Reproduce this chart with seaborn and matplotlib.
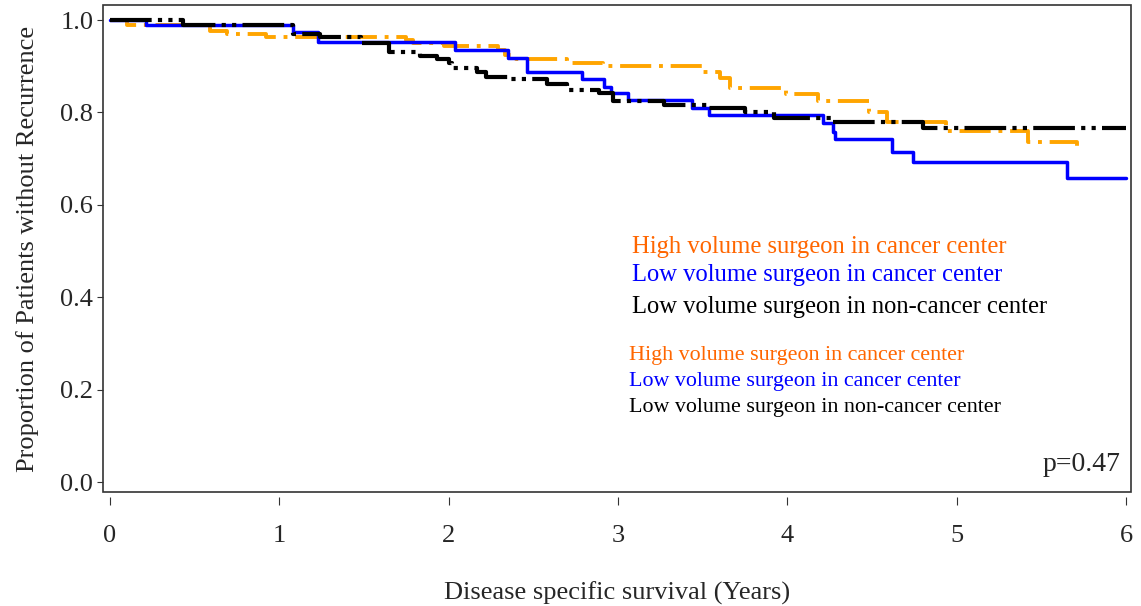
import numpy as np
import pandas as pd
import seaborn as sns
import matplotlib.pyplot as plt
from matplotlib.patches import Rectangle

# step points (time in years, proportion)
high_cc_t = [0, 0.1, 0.59, 0.69, 0.92, 1.75, 1.79, 1.97, 2.29, 2.33, 2.4, 2.7, 2.91,
             3.5, 3.6, 3.66, 3.99, 4.18, 4.48, 4.59, 4.94, 5.42, 5.71]
high_cc_s = [1.0, 0.99, 0.976, 0.97, 0.963, 0.957, 0.95, 0.944, 0.935, 0.924, 0.915, 0.908, 0.9,
             0.888, 0.874, 0.853, 0.84, 0.825, 0.8, 0.779, 0.76, 0.736, 0.72]

low_cc_t = [0, 0.21, 1.08, 1.23, 2.04, 2.35, 2.46, 2.79, 2.92, 2.96, 3.06, 3.44, 3.54,
            4.21, 4.27, 4.28, 4.62, 4.74, 5.65, 6.0]
low_cc_s = [1.0, 0.99, 0.975, 0.953, 0.935, 0.918, 0.887, 0.872, 0.855, 0.842, 0.827, 0.81, 0.794,
            0.777, 0.757, 0.742, 0.714, 0.692, 0.658, 0.658]

low_ncc_t = [0, 0.43, 1.08, 1.24, 1.48, 1.65, 1.83, 1.93, 2.0, 2.02, 2.17, 2.22, 2.36, 2.58, 2.7,
             2.89, 2.97, 3.27, 3.54, 3.75, 3.92, 4.26, 4.8, 6.0]
low_ncc_s = [1.0, 0.99, 0.97, 0.963, 0.95, 0.93, 0.922, 0.915, 0.906, 0.896, 0.887, 0.877, 0.872, 0.861, 0.848,
             0.842, 0.825, 0.816, 0.81, 0.8, 0.788, 0.779, 0.766, 0.766]

labels = ["High volume surgeon in cancer center",
          "Low volume surgeon in cancer center",
          "Low volume surgeon in non-cancer center"]
line_colors = ["#FFA500", "#0000FF", "#000000"]
text_colors = ["#FF6600", "#0000FF", "#000000"]

# text block positions in data units
block1_x, block1_y = 3.083, [0.496, 0.435, 0.366]
block2_x, block2_y = 3.065, [0.264, 0.208, 0.152]

sns.set_style("white")
plt.rcParams['font.family'] = ['Liberation Serif', 'DejaVu Serif']

fig = plt.figure(figsize=(11.41, 6.06), dpi=100)
ax = fig.add_axes([0.0903, 0.1881, 0.9009, 0.8036])

sns.lineplot(x=high_cc_t, y=high_cc_s, ax=ax, color=line_colors[0], drawstyle='steps-post',
             estimator=None, sort=False, linewidth=2.8, linestyle=(0, (8, 2, 1, 2)))
sns.lineplot(x=low_cc_t, y=low_cc_s, ax=ax, color=line_colors[1], drawstyle='steps-post',
             estimator=None, sort=False, linewidth=2.5)
sns.lineplot(x=low_ncc_t, y=low_ncc_s, ax=ax, color=line_colors[2], drawstyle='steps-post',
             estimator=None, sort=False, linewidth=3.0, linestyle=(0, (10, 1.5, 1, 1.5, 1, 1.5)))

ax.set_xlim(-0.0413, 6.0295)
ax.set_ylim(-0.0216, 1.0325)
ax.set_xticks(range(0, 7))
ax.set_yticks([0.0, 0.2, 0.4, 0.6, 0.8, 1.0])
ax.set_yticklabels(["0.0", "0.2", "0.4", "0.6", "0.8", "1.0"])

# detached x ticks below the box, box drawn as a rectangle
for s in ax.spines.values():
    s.set_visible(False)
ax.spines['bottom'].set_visible(True)
ax.spines['bottom'].set_position(('outward', 3.6))
ax.spines['bottom'].set_linewidth(0)
ax.add_patch(Rectangle((0, 0), 1, 1, transform=ax.transAxes, fill=False,
                       edgecolor="#333333", linewidth=1.2, clip_on=False, zorder=5))
ax.tick_params(axis='x', direction='out', length=6, width=0.8, color='#333333',
               labelsize=19, pad=14, bottom=True)
ax.tick_params(axis='y', direction='out', length=4, width=0.8, color='#333333',
               labelsize=19, pad=3, left=True)

ax.set_xlabel("Disease specific survival (Years)", fontsize=19, labelpad=25)
ax.set_ylabel("Proportion of Patients without Recurrence", fontsize=19, labelpad=15)

for y, lab, c in zip(block1_y, labels, text_colors):
    ax.text(block1_x, y, lab, color=c, fontsize=17.7, va='baseline')
for y, lab, c in zip(block2_y, labels, text_colors):
    ax.text(block2_x, y, lab, color=c, fontsize=15.8, va='baseline')

ax.text(5.965, 0.024, "p=0.47", fontsize=20, ha='right', va='baseline')

fig.savefig("out.png", dpi=100)
